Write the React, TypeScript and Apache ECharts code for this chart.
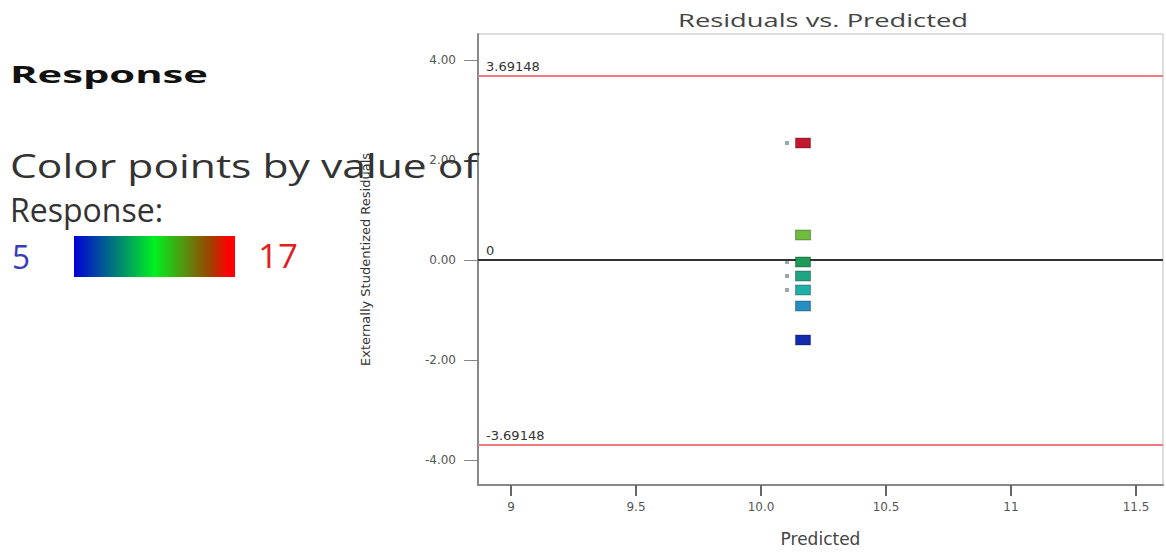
import React, { useEffect, useRef } from "react";
import * as echarts from "echarts";

// Data
const predicted = [10.168, 10.168, 10.168, 10.168, 10.168, 10.168, 10.168];
const residuals = [2.34, 0.5, -0.04, -0.32, -0.6, -0.92, -1.6];
const responses = [16.7, 13.0, 10.9, 10.0, 9.1, 8.0, 5.5];
const flagged = [true, false, true, true, true, false, false];
const xTicks = [9, 9.5, 10, 10.5, 11, 11.5];
const xTickLabels = ["9", "9.5", "10.0", "10.5", "11", "11.5"];
const yTicks = [-4, -2, 0, 2, 4];
const limit = 3.69148;
const responseMin = 5;
const responseMax = 17;

const OPEN = "'Open Sans', 'Noto Sans', sans-serif";
const DEJA = "'DejaVu Sans', sans-serif";

function measure(text: string, font: string): number {
  const c = document.createElement("canvas").getContext("2d")!;
  c.font = font;
  return c.measureText(text).width || 1;
}

function stretched(
  text: string,
  x: number,
  y: number,
  size: number,
  weight: string,
  target: number,
  fill: string,
  align: "left" | "center" = "left"
) {
  const w = measure(text, `${weight} ${size}px 'Open Sans'`);
  return {
    type: "text",
    x,
    y,
    scaleX: target / w,
    z: 100,
    style: {
      text,
      fontFamily: OPEN,
      fontSize: size,
      fontWeight: weight,
      fill,
      align,
      verticalAlign: "middle",
    },
  };
}

export default function App() {
  const ref = useRef<HTMLDivElement>(null);
  useEffect(() => {
    const chart = echarts.init(ref.current!, null, { renderer: "svg" });
    const pts = predicted.map((x, i) => [x, residuals[i], responses[i]]);
    const flaggedPts = pts.filter((_, i) => flagged[i]);
    chart.setOption({
      animation: false,
      backgroundColor: "#ffffff",
      grid: {
        left: 478,
        top: 34,
        right: 3,
        bottom: 68,
        show: true,
        borderColor: "#bbb",
        borderWidth: 1,
        outerBoundsMode: "none",
        containLabel: false,
      },
      visualMap: {
        show: false,
        type: "continuous",
        min: responseMin,
        max: responseMax,
        dimension: 2,
        seriesIndex: 0,
        inRange: {
          color: ["#0a14a0", "#2c6cd0", "#20b0b0", "#1e9a52", "#70bc3e", "#a84034", "#c8102e"],
        },
      },
      xAxis: {
        type: "value",
        min: 8.868,
        max: 11.608,
        name: "Predicted",
        nameLocation: "middle",
        nameGap: 45,
        nameTextStyle: { fontFamily: DEJA, fontSize: 17, color: "#444" },
        axisLine: { show: true, onZero: false, lineStyle: { color: "#888", width: 2 } },
        axisTick: { show: true, customValues: xTicks, length: 11, lineStyle: { color: "#666", width: 2 } },
        axisLabel: {
          customValues: xTicks,
          fontFamily: DEJA,
          fontSize: 12,
          color: "#555",
          margin: 16,
          formatter: (v: number) => {
            const i = xTicks.findIndex((t) => Math.abs(t - v) < 1e-9);
            return i >= 0 ? xTickLabels[i] : "";
          },
        },
        splitLine: { show: false },
      },
      yAxis: {
        type: "value",
        min: -4.5,
        max: 4.52,
        name: "Externally Studentized Residuals",
        nameLocation: "middle",
        nameGap: 106,
        nameTextStyle: { fontFamily: DEJA, fontSize: 13, color: "#333" },
        axisLine: { show: true, onZero: false, lineStyle: { color: "#888", width: 2 } },
        axisTick: { show: true, customValues: yTicks, length: 14, lineStyle: { color: "#888", width: 1 } },
        axisLabel: {
          customValues: yTicks,
          fontFamily: DEJA,
          fontSize: 12,
          color: "#555",
          margin: 22,
          formatter: (v: number) => v.toFixed(2),
        },
        splitLine: { show: false },
      },
      series: [
        {
          type: "scatter",
          data: pts,
          symbol: "rect",
          symbolSize: [15, 10],
          itemStyle: { opacity: 1, borderColor: "rgba(0,0,0,0.3)", borderWidth: 1 },
          z: 5,
          markLine: {
            silent: true,
            symbol: "none",
            data: [
              { yAxis: limit, lineStyle: { color: "#ee7b84", width: 2, type: "solid" }, label: { formatter: limit.toFixed(5) } },
              { yAxis: -limit, lineStyle: { color: "#ee7b84", width: 2, type: "solid" }, label: { formatter: (-limit).toFixed(5) } },
              { yAxis: 0, lineStyle: { color: "#333", width: 2, type: "solid" }, label: { formatter: "0" } },
            ],
            label: {
              position: "insideStartTop",
              distance: [8, 3],
              fontFamily: DEJA,
              fontSize: 13,
              color: "#333",
            },
          },
        },
        {
          type: "scatter",
          data: flaggedPts,
          symbol: "rect",
          symbolSize: 4,
          symbolOffset: [-16, 0],
          itemStyle: { color: "#99aaa8", opacity: 1 },
          z: 4,
        },
      ],
      graphic: [
        stretched("Residuals vs. Predicted", 823, 20, 19, "normal", 290, "#444", "center"),
        stretched("Response", 10, 74, 24, "bold", 198, "#111"),
        stretched("Color points by value of", 10, 166, 32, "normal", 468, "#333"),
        stretched("Response:", 10, 209, 32, "normal", 153, "#333"),
        stretched(String(responseMin), 12, 256, 32, "normal", 18, "#3b3bbb"),
        {
          type: "rect",
          shape: { x: 74, y: 236, width: 161, height: 41 },
          style: {
            fill: new echarts.graphic.LinearGradient(0, 0, 1, 0, [
              { offset: 0, color: "#0000d8" },
              { offset: 0.5, color: "#00f020" },
              { offset: 0.85, color: "#a04000" },
              { offset: 0.96, color: "#ff0000" },
              { offset: 1, color: "#ff0000" },
            ]),
          },
          z: 100,
        },
        stretched(String(responseMax), 258, 256, 32, "normal", 40, "#e02020"),
      ],
    });
    return () => chart.dispose();
  }, []);
  return <div ref={ref} style={{ position: "fixed", left: 0, top: 0, width: 1166, height: 553 }} />;
}
